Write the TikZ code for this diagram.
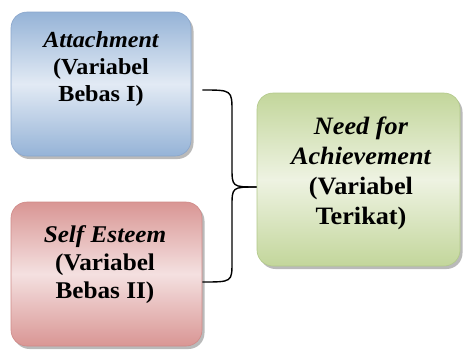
\documentclass[tikz,border=0pt]{standalone}
\usepackage{fontspec}
\setmainfont{Liberation Serif}
\usepackage{graphicx}
\usetikzlibrary{shadows}
\definecolor{bluedark}{HTML}{95B3D7}
\definecolor{bluelight}{HTML}{E2EAF4}
\definecolor{blueline}{HTML}{8AA6CC}
\definecolor{reddark}{HTML}{D99694}
\definecolor{redlight}{HTML}{F4E0E0}
\definecolor{redline}{HTML}{CF8A88}
\definecolor{greendark}{HTML}{C3D69B}
\definecolor{greenlight}{HTML}{EEF3E2}
\definecolor{greenline}{HTML}{B2C98A}
\newcommand{\sxl}[1]{\scalebox{1.05}[1]{#1}}
\begin{document}
\begin{tikzpicture}[x=1pt,y=-1pt,
  varbox/.style={rectangle, rounded corners=16pt, line width=0.6pt,
    shading angle=-45,
    drop shadow={shadow xshift=2.5pt, shadow yshift=-3pt, opacity=0.45, fill=black!60}},
  bluebox/.style={varbox, draw=blueline, top color=bluedark, bottom color=bluedark, middle color=bluelight},
  redbox/.style={varbox, draw=redline, top color=reddark, bottom color=reddark, middle color=redlight},
  greenbox/.style={varbox, draw=greenline, top color=greendark, bottom color=greendark, middle color=greenlight},
  vartext/.style={align=center, inner sep=0pt},
  brace/.style={draw=black, line width=1.4pt}
]
\useasboundingbox (0,0) rectangle (464,354);
\node[bluebox, minimum width=180pt, minimum height=144pt] (blue) at (101,84) {};
\node[redbox, minimum width=191pt, minimum height=144pt] (red) at (106.5,274) {};
\node[greenbox, minimum width=203pt, minimum height=173pt] (green) at (358.5,179.5) {};
\node[vartext, font=\fontsize{23}{27}\selectfont\bfseries] (bluetxt) at (101,68.8)
  {\sxl{\itshape Attachment}\\ \sxl{(Variabel}\\ \sxl{Bebas I)}};
\node[vartext, font=\fontsize{24}{28}\selectfont\bfseries] (redtxt) at (105,264.5)
  {\sxl{\itshape Self Esteem}\\ \sxl{(Variabel}\\ \sxl{Bebas II)}};
\node[vartext, font=\fontsize{25}{30}\selectfont\bfseries] (greentxt) at (361,173.6)
  {\sxl{\itshape Need for}\\ \sxl{\itshape Achievement}\\ \sxl{(Variabel}\\ \sxl{Terikat)}};
\coordinate (btop) at ([xshift=11pt]blue.east |- 0,90);
\coordinate (bbot) at ([xshift=0pt]red.east |- 0,282);
\coordinate (btip) at (green.west |- 0,187);
\draw[brace] (btop) .. controls (232,90) .. (232,112) -- (232,167)
  .. controls (232,187) .. (btip);
\draw[brace] (btip) .. controls (232,187) .. (232,207) -- (232,262)
  .. controls (232,282) .. (bbot);
\end{tikzpicture}
\end{document}
